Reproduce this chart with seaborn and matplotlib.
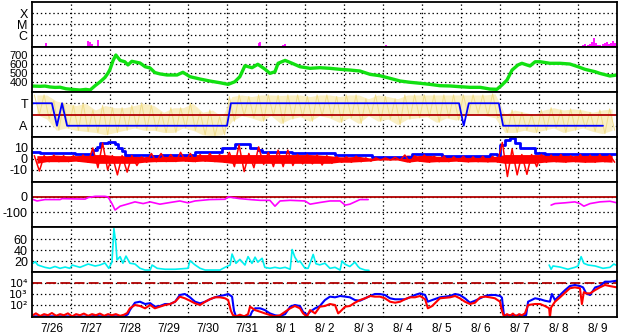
import numpy as np
import pandas as pd
import matplotlib
matplotlib.use("Agg")
import matplotlib.pyplot as plt
from matplotlib.ticker import NullLocator
import seaborn as sns

sns.set_theme(style="white")
plt.rcParams['font.family'] = ['Liberation Sans', 'DejaVu Sans']
plt.rcParams['axes.unicode_minus'] = False
plt.rcParams['lines.scale_dashes'] = False

# ---------------- data (time in days from 7/26 00:00) ----------------
day_labels = ["7/26", "7/27", "7/28", "7/29", "7/30", "7/31", "8/ 1", "8/ 2",
              "8/ 3", "8/ 4", "8/ 5", "8/ 6", "8/ 7", "8/ 8", "8/ 9"]

# X-ray flux bars
xray_t = [0.36, 1.44, 1.49, 1.54, 1.69, 3.97, 5.26, 5.82, 5.85, 6.44,
          6.49, 9.08, 13.79, 14.05, 14.13, 14.18, 14.26, 14.31, 14.36, 14.41,
          14.46, 14.51, 14.56, 14.64, 14.69, 14.74, 14.79, 14.85, 14.90, 14.95]
xray_flux = [1.9e-7, 2.9e-7, 2.3e-7, 1.5e-7, 3.5e-7, 1.0e-7, 1.0e-7, 1.9e-7, 2.3e-7, 1.2e-7,
             1.5e-7, 1.2e-7, 1.0e-7, 1.0e-7, 1.2e-7, 1.5e-7, 1.2e-7, 1.5e-7, 2.3e-7, 5.4e-7,
             1.9e-7, 1.2e-7, 1.2e-7, 1.5e-7, 1.9e-7, 2.3e-7, 1.5e-7, 1.9e-7, 2.9e-7, 1.9e-7]

# Solar wind speed
spd_t = [0.0, 0.21, 0.33, 0.46, 0.59, 0.72, 0.87, 1.03, 1.23, 1.38,
         1.49, 1.62, 1.74, 1.87, 1.95, 2.0, 2.08, 2.15, 2.26, 2.38,
         2.46, 2.56, 2.77, 2.9, 3.03, 3.15, 3.28, 3.46, 3.72, 3.87,
         4.05, 4.31, 4.56, 4.82, 5.03, 5.2, 5.33, 5.46, 5.64, 5.79,
         5.97, 6.1, 6.23, 6.31, 6.49, 6.67, 6.87, 7.13, 7.38, 7.64,
         7.9, 8.15, 8.41, 8.67, 8.92, 9.18, 9.44, 9.69, 9.95, 10.2,
         10.46, 10.72, 10.97, 11.23, 11.49, 11.74, 11.92, 12.05, 12.18, 12.31,
         12.46, 12.56, 12.77, 12.9, 13.03, 13.28, 13.54, 13.79, 14.0, 14.18,
         14.44, 14.56, 14.82, 15.0]
spd_v = [355, 352, 355, 345, 340, 342, 325, 318, 311, 318,
         311, 360, 400, 450, 500, 540, 640, 700, 640, 625,
         590, 630, 611, 570, 555, 505, 490, 478, 478, 508,
         459, 433, 411, 392, 374, 403, 459, 581, 559, 597,
         544, 496, 514, 608, 640, 608, 570, 552, 559, 552,
         541, 533, 522, 485, 470, 441, 411, 397, 386, 374,
         359, 356, 348, 341, 341, 322, 319, 367, 422, 533,
         589, 608, 578, 625, 625, 608, 608, 600, 570, 541,
         514, 496, 467, 478]

# IMF sector (T = +0.5, A = -0.5)
sec_t = [0.0, 0.51, 0.64, 0.77, 0.9, 5.0, 5.1, 10.95, 11.07, 11.2, 11.97, 12.08, 14.64]
sec_v = [0.5, 0.5, -0.5, 0.5, -0.5, -0.5, 0.5, 0.5, -0.5, 0.5, 0.5, -0.5, -0.5]

# IMF angle trace: dense band (high / low) per 6-hour bin
phi_hi = [0.87, 0.87, 0.60, 0.50, 0.40, 0.50, 0.20, 0.40, 0.30, 0.30,
          0.40, 0.50, 0.40, 0.10, 0.30, 0.30, 0.50, 0.10, 0.20, -0.10,
          0.80, 0.87, 0.80, 0.87, 0.87, 0.85, 0.87, 0.87, 0.80, 0.87,
          0.87, 0.80, 0.87, 0.87, 0.70, 0.87, 0.80, 0.70, 0.87, 0.87,
          0.87, 0.87, 0.87, 0.87, 0.87, 0.87, 0.87, 0.92, 0.00, 0.20,
          0.10, 0.00, 0.20, 0.30, 0.20, 0.25, 0.20, 0.10, 0.20, 0.25]
phi_lo = [0.00, -0.20, -0.70, -0.60, -0.70, -0.75, -0.80, -0.90, -0.80, -0.70,
          -0.60, -0.70, -0.70, -0.80, -0.80, -0.60, -0.70, -0.90, -0.95, -0.90,
          -0.30, -0.05, -0.15, -0.30, -0.05, -0.40, -0.20, -0.10, -0.30, -0.05,
          -0.15, -0.35, -0.15, -0.40, -0.05, -0.30, -0.20, -0.45, -0.20, -0.15,
          -0.10, -0.35, -0.15, -0.25, -0.05, 0.05, -0.05, -0.15, -0.80, -0.80,
          -0.70, -0.80, -0.70, -0.60, -0.80, -0.70, -0.60, -0.75, -0.85, -0.70]

# Bt (blue)
bt_t = [0.0, 0.21, 0.72, 1.10, 1.49, 1.56, 1.67, 1.74, 1.95, 2.13,
        2.21, 2.31, 2.38, 2.77, 3.03, 3.28, 4.05, 4.18, 4.69, 4.87,
        5.08, 5.21, 5.46, 5.59, 5.79, 5.90, 6.62, 6.67, 7.64, 7.77,
        8.67, 8.72, 9.69, 9.74, 10.46, 10.51, 11.49, 11.74, 11.92, 12.0,
        12.13, 12.26, 12.38, 12.51, 12.77, 12.90, 13.15, 15.0]
bt_v = [6.7, 5.2, 5, 4.3, 4.5, 8, 11, 14.5, 15, 14,
        10, 7, 4, 3.5, 2.7, 3.6, 3.6, 6, 6, 9.7,
        9.7, 13.4, 13.4, 10, 8, 6.7, 6.7, 5.2, 5.4, 3.6,
        3.6, 1.5, 1.5, 4.3, 4.3, 3, 3, 4.5, 4, 12.7,
        17, 19, 14.5, 10, 10, 5.4, 4.5, 4.5]

# Bz (red), high / low per 6-hour bin
bz_hi = [3, 3, 3.5, 3, 3, 3.5, 10, 14.5, 3, 3,
         3, 2, 5, 5, 4, 6, 5, 4, 5, 4,
         6, 12.7, 5, 11, 6, 8, 8, 4, 4, 3.6,
         3, 2, 2, 2.5, 1, 1, 1, 1.5, 3.6, 3,
         3.6, 2.5, 2.5, 2, 2.4, 2, 2.4, 2.4, 15, 9,
         4, 4, 4, 3.5, 4, 3, 4, 3.5, 4, 3.5]
bz_lo = [-11, -2.5, -2.5, -2.5, -2, -3, -8, -10, -14.5, -12,
         -6, -3, -2.5, -2.4, -2.4, -2, -2.5, -2, -2.4, -3,
         -7, -11.5, -8, -5, -7, -7, -6, -4.5, -4.5, -5.5,
         -4, -3, -3, -2.5, -2, -1, -1, -1, -3, -2,
         -3, -2.5, -2.5, -2, -2.7, -2.5, -2.7, -2.7, -16, -14.5,
         -14, -7, -3, -2.5, -3, -2.5, -3, -3, -2.5, -3]

# Dst (two segments)
dst1_t = [0.03, 0.13, 0.33, 0.72, 0.77, 1.36, 1.44, 1.62, 1.87, 1.95,
          2.05, 2.13, 2.26, 2.44, 2.64, 2.85, 3.03, 3.28, 3.54, 3.79,
          4.0, 4.18, 4.56, 4.95, 5.03, 5.33, 5.59, 5.85, 6.10, 6.23,
          6.36, 6.62, 7.0, 7.13, 7.38, 7.64, 7.90, 8.03, 8.15, 8.28,
          8.41, 8.62]
dst1_v = [-17, -26, -17, -17, -11, -14, -4, 4, 4, 0,
          -43, -85, -60, -47, -32, -43, -32, -47, -36, -26,
          -38, -26, -17, -15, 0, -11, -17, -22, -22, -60,
          -26, -22, -26, -47, -36, -26, -26, -53, -47, -32,
          -17, -17]
dst2_t = [13.31, 13.41, 13.67, 13.92, 14.05, 14.15, 14.31, 14.56, 14.82, 15.0]
dst2_v = [-53, -43, -38, -32, -43, -60, -43, -32, -28, -38]

# Proton density (two segments)
den1_t = [0.03, 0.08, 0.15, 0.33, 0.46, 0.59, 0.72, 0.85, 0.97, 1.03,
          1.23, 1.44, 1.62, 1.74, 1.87, 1.97, 2.05, 2.10, 2.15, 2.18,
          2.26, 2.33, 2.41, 2.51, 2.64, 2.77, 2.90, 3.03, 3.08, 3.21,
          3.41, 3.67, 4.0, 4.05, 4.18, 4.31, 4.44, 4.82, 4.95, 5.08,
          5.13, 5.23, 5.33, 5.46, 5.54, 5.64, 5.72, 5.79, 5.90, 5.97,
          6.10, 6.23, 6.36, 6.49, 6.62, 6.67, 6.74, 6.82, 6.87, 7.0,
          7.08, 7.15, 7.21, 7.28, 7.38, 7.51, 7.64, 7.77, 7.90, 7.95,
          8.03, 8.15, 8.28, 8.36, 8.41, 8.54, 8.64]
den1_v = [15.8, 18.8, 12.7, 8.5, 6.7, 10, 6.7, 9, 6.7, 12.7,
          8.5, 14.5, 10.9, 12.7, 16.4, 6.7, 18, 79, 52, 22,
          28, 16, 29, 16, 14.5, 6.7, 3.6, 3.6, 12.7, 6.7,
          5, 5, 6.7, 20.6, 13, 6.7, 3.6, 3.6, 8.5, 12.7,
          32.7, 15.8, 23, 12.7, 28, 15.8, 27, 18, 25, 8.5,
          6.7, 8.5, 6.7, 8.5, 5, 41, 27, 18, 20, 6.7,
          6.7, 20, 32, 15, 13, 16, 6.7, 8.5, 3.6, 20,
          14, 10, 18, 10, 6.7, 3.6, 3]
den2_t = [13.26, 13.31, 13.36, 13.54, 13.74, 13.92, 14.0, 14.08, 14.15, 14.26,
          14.44, 14.64, 14.82, 14.92, 14.97]
den2_v = [12.7, 5, 11, 9, 5, 8.5, 11, 28, 15.8, 12.7,
          11, 6.7, 8.5, 14.5, 12.7]

# Particle flux (log10), blue and red
pb_t = [0.03, 0.72, 1.49, 1.62, 1.74, 2.38, 2.46, 2.51, 2.64, 2.77,
        2.90, 3.03, 3.15, 3.28, 3.41, 3.54, 3.67, 3.79, 3.92, 4.05,
        4.18, 4.31, 4.44, 4.56, 4.69, 4.82, 4.95, 5.03, 5.13, 5.18,
        5.23, 5.59, 5.64, 5.72, 5.85, 5.97, 6.10, 6.23, 6.36, 6.49,
        6.62, 6.74, 6.87, 6.95, 7.05, 7.13, 7.26, 7.38, 7.51, 7.64,
        7.77, 7.90, 8.03, 8.15, 8.28, 8.41, 8.54, 8.67, 8.79, 8.92,
        9.05, 9.18, 9.31, 9.44, 9.56, 9.69, 9.82, 9.95, 10.08, 10.15,
        10.26, 10.46, 10.72, 10.85, 10.97, 11.10, 11.23, 11.36, 11.49, 11.62,
        11.74, 11.87, 12.0, 12.05, 12.10, 12.26, 12.51, 12.67, 12.72, 12.90,
        13.03, 13.15, 13.28, 13.33, 13.41, 13.54, 13.67, 13.79, 13.92, 14.05,
        14.13, 14.21, 14.31, 14.44, 14.56, 14.69, 14.82, 15.0]
pb_log = [1.0, 1.0, 0.97, 1.05, 1.0, 1.0, 1.2, 1.57, 2.24, 2.33,
          2.12, 2.2, 1.88, 1.94, 2.12, 2.12, 2.33, 2.94, 3.03, 2.73,
          2.33, 2.18, 2.33, 2.55, 2.73, 2.85, 2.94, 3.03, 2.79, 1.5,
          1.0, 1.0, 1.42, 1.73, 1.73, 1.57, 1.27, 1.1, 1.03, 1.2,
          1.88, 2.03, 1.94, 1.42, 1.12, 1.42, 1.73, 1.94, 2.48, 2.79,
          2.73, 2.85, 2.79, 2.73, 2.48, 2.42, 2.64, 2.85, 3.03, 3.03,
          2.94, 2.64, 2.55, 2.55, 2.55, 2.73, 2.94, 3.09, 2.94, 2.33,
          2.48, 2.73, 2.85, 3.03, 2.94, 2.64, 2.24, 2.42, 2.64, 2.85,
          2.94, 2.94, 2.85, 2.7, 1.1, 1.1, 1.05, 1.1, 2.33, 2.64,
          2.55, 2.42, 2.33, 3.03, 2.48, 2.94, 3.39, 3.75, 3.85, 3.75,
          3.63, 3.09, 2.94, 3.63, 3.75, 4.15, 4.15, 4.24]
pr_t = [0.03, 0.10, 0.21, 0.31, 0.41, 0.51, 0.62, 0.72, 0.82, 0.92,
        1.03, 1.13, 1.23, 1.33, 1.44, 1.54, 1.64, 1.74, 1.85, 1.95,
        2.05, 2.15, 2.26, 2.36, 2.44, 2.51, 2.64, 2.77, 2.90, 3.03,
        3.15, 3.28, 3.41, 3.54, 3.67, 3.79, 3.92, 4.05, 4.18, 4.31,
        4.44, 4.56, 4.69, 4.82, 4.95, 5.03, 5.10, 5.15, 5.23, 5.33,
        5.44, 5.54, 5.59, 5.72, 5.85, 5.97, 6.10, 6.23, 6.36, 6.49,
        6.62, 6.74, 6.87, 6.95, 7.05, 7.13, 7.26, 7.38, 7.51, 7.64,
        7.77, 7.85, 7.90, 8.03, 8.15, 8.28, 8.41, 8.54, 8.67, 8.79,
        8.92, 9.05, 9.18, 9.31, 9.44, 9.56, 9.69, 9.82, 9.95, 10.08,
        10.15, 10.26, 10.46, 10.72, 10.85, 10.97, 11.10, 11.23, 11.36, 11.49,
        11.62, 11.74, 11.87, 12.0, 12.05, 12.10, 12.18, 12.26, 12.33, 12.41,
        12.49, 12.56, 12.64, 12.72, 12.90, 13.03, 13.15, 13.26, 13.28, 13.31,
        13.41, 13.54, 13.67, 13.79, 13.92, 14.05, 14.10, 14.15, 14.21, 14.31,
        14.44, 14.56, 14.69, 14.82, 15.0]
pr_log = [1.12, 1.27, 1.03, 1.2, 1.1, 1.3, 1.05, 1.2, 1.1, 1.27,
          1.0, 1.2, 1.1, 1.25, 1.05, 1.2, 1.1, 1.25, 1.05, 1.2,
          1.1, 1.2, 1.05, 1.15, 1.3, 1.73, 2.03, 1.94, 1.73, 2.03,
          1.73, 1.88, 2.03, 2.12, 2.33, 2.79, 2.64, 2.42, 2.18, 2.03,
          2.33, 2.55, 2.73, 2.73, 2.64, 2.48, 1.5, 1.12, 1.0, 1.15,
          1.0, 1.2, 1.88, 1.57, 1.42, 1.27, 1.12, 1.0, 1.1, 1.42,
          1.73, 1.94, 1.73, 1.27, 0.97, 1.57, 1.27, 1.88, 1.94, 2.12,
          2.03, 1.27, 1.42, 1.88, 1.94, 2.24, 2.48, 2.64, 2.85, 2.79,
          2.79, 2.64, 2.33, 2.24, 2.33, 2.55, 2.73, 2.73, 2.85, 2.55,
          1.73, 1.94, 2.64, 2.73, 2.85, 2.64, 2.33, 2.12, 2.24, 2.73,
          2.79, 2.73, 2.64, 2.33, 1.5, 1.0, 1.2, 1.05, 1.25, 1.0,
          1.2, 1.1, 1.27, 2.03, 2.12, 2.12, 1.94, 1.73, 0.9, 1.8,
          2.33, 2.73, 3.15, 3.55, 3.63, 3.55, 2.12, 3.2, 3.09, 3.09,
          3.39, 3.63, 3.85, 3.75, 3.63]

# ---------------- figure ----------------
W, H = 628, 334
fig = plt.figure(figsize=(W / 100, H / 100), dpi=100)
fig.patch.set_facecolor('white')

LEFT, RIGHT = 32, 617
panel_px = [(2, 47), (47, 92), (92, 137), (137, 182), (182, 227), (227, 272), (272, 317)]
DOT = (0, (1.0, 2.0))
FS = 9
DKRED = '#b00000'


def make_ax(top, bot):
    return fig.add_axes([LEFT / W, (H - bot) / H, (RIGHT - LEFT) / W, (bot - top) / H])


def style(ax, ylim, yticks, ylabels, log=False, fs=FS):
    if log:
        ax.set_yscale('log')
    ax.set_xlim(0, 15)
    ax.set_ylim(*ylim)
    ax.set_yticks(yticks)
    ax.set_yticklabels(ylabels)
    ax.yaxis.set_minor_locator(NullLocator())
    ax.set_xticks(range(1, 15))
    ax.set_xticklabels([])
    ax.tick_params(which='both', length=0, labelsize=fs, pad=3, colors='black')
    ax.grid(True, which='major', color='black', linestyle=DOT, linewidth=0.9)
    ax.set_axisbelow(True)
    for s in ax.spines.values():
        s.set_color('black')
        s.set_linewidth(1.3)
    ax.set_xlabel('')
    ax.set_ylabel('')
    ax.set_facecolor('white')


axes = [make_ax(t, b) for t, b in panel_px]
bin_c = [0.25 * i + 0.125 for i in range(60)]


def zigzag(hi, lo):
    tt, vv = [], []
    for i, (h, l) in enumerate(zip(hi, lo)):
        tt += [0.25 * i + 0.06, 0.25 * i + 0.19]
        vv += [h, l]
    return tt, vv


# Panel 1: X-ray
ax = axes[0]
ylo1 = 10 ** -7.09
style(ax, (ylo1, 1e-3), [1e-6, 1e-5, 1e-4], ['C', 'M', 'X'], log=True)
ax.vlines(xray_t, ylo1, xray_flux, color='#ff00ff', lw=1.3)

# Panel 2: speed
ax = axes[1]
sns.lineplot(x=spd_t, y=spd_v, ax=ax, color='#11e011', lw=2.4, estimator=None, sort=False)
style(ax, (289, 789), [400, 500, 600, 700], ['400', '500', '600', '700'], fs=8)

# Panel 3: sector
ax = axes[2]
ax.fill_between(bin_c, phi_lo, phi_hi, color='#faefc4', lw=0)
pt, pv = zigzag(phi_hi, phi_lo)
sns.lineplot(x=pt, y=pv, ax=ax, color='#f0dc8a', lw=0.7, estimator=None, sort=False)
ax.axhline(0, color=DKRED, lw=1.3)
sns.lineplot(x=sec_t, y=sec_v, ax=ax, color='#0000ff', lw=1.3, estimator=None, sort=False)
style(ax, (-1, 1), [-0.5, 0.5], ['A', 'T'])

# Panel 4: IMF
ax = axes[3]
sns.lineplot(x=bt_t, y=bt_v, ax=ax, color='#0000ff', lw=2.0, estimator=None,
             sort=False, drawstyle='steps-post')
ax.fill_between(bin_c, np.clip(bz_lo, -4, None), np.clip(bz_hi, None, 4),
                color='#ff0000', lw=0)
zt, zv = zigzag(bz_hi, bz_lo)
sns.lineplot(x=zt, y=zv, ax=ax, color='#ff0000', lw=1.1, estimator=None, sort=False)
style(ax, (-21, 20), [-10, 0, 10], ['-10', '0', '10'])

# Panel 5: Dst
ax = axes[4]
ax.axhline(0, color=DKRED, lw=1.3)
sns.lineplot(x=dst1_t, y=dst1_v, ax=ax, color='#ff00ff', lw=1.2, estimator=None, sort=False)
sns.lineplot(x=dst2_t, y=dst2_v, ax=ax, color='#ff00ff', lw=1.2, estimator=None, sort=False)
style(ax, (-195, 97), [-100, 0], ['-100', '0'])

# Panel 6: density
ax = axes[5]
sns.lineplot(x=den1_t, y=den1_v, ax=ax, color='#00f0f0', lw=1.2, estimator=None, sort=False)
sns.lineplot(x=den2_t, y=den2_v, ax=ax, color='#00f0f0', lw=1.2, estimator=None, sort=False)
style(ax, (0, 82), [20, 40, 60], ['20', '40', '60'])

# Panel 7: particle flux
ax = axes[6]
ax.axhline(1e4, color=DKRED, lw=1.3, dashes=(7.2, 3.0))
sns.lineplot(x=pb_t, y=10 ** np.array(pb_log), ax=ax, color='#0000ff', lw=1.5,
             estimator=None, sort=False)
sns.lineplot(x=pr_t, y=10 ** np.array(pr_log), ax=ax, color='#ff0000', lw=1.5,
             estimator=None, sort=False)
style(ax, (10 ** 0.94, 10 ** 5.03), [1e2, 1e3, 1e4],
      ['10\u00b2', '10\u00b3', '10\u2074'], log=True, fs=8.5)
for lab in ax.get_yticklabels():
    lab.set_fontfamily(['DejaVu Sans'])
    lab.set_fontsize(8)
ax.set_xticks([k + 0.5 for k in range(15)], minor=True)
ax.set_xticklabels(day_labels, minor=True)
ax.tick_params(which='minor', length=0, pad=4, labelsize=8.5)

for a in axes:
    if a.get_legend() is not None:
        a.get_legend().remove()

fig.savefig('out.png', dpi=100, facecolor='white')
